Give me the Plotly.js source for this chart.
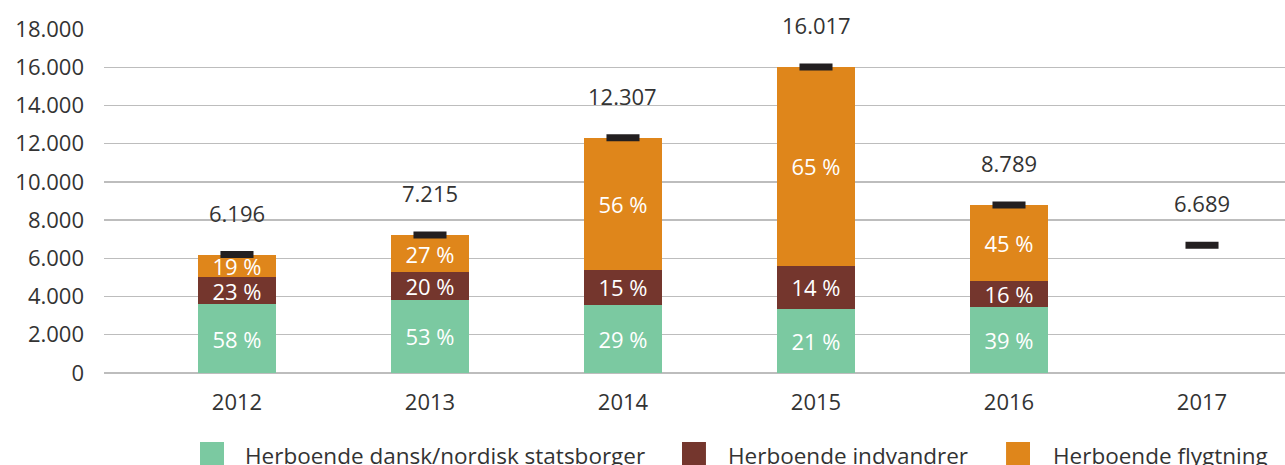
<!DOCTYPE html>
<html>
<head>
<meta charset="utf-8">
<script src="https://cdn.plot.ly/plotly-3.0.1.min.js"></script>
<style>html,body{margin:0;padding:0;background:#fff;}#chart{width:1285px;height:465px;}</style>
</head>
<body>
<div id="chart"></div>
<script>
// ---- data ----
var years = ['2012', '2013', '2014', '2015', '2016', '2017'];
var dansk = [3594, 3824, 3569, 3364, 3428, null];
var indvandrer = [1425, 1443, 1846, 2242, 1406, null];
var flygtning = [1177, 1948, 6892, 10411, 3955, null];
var pctDansk = ['58 %', '53 %', '29 %', '21 %', '39 %', ''];
var pctIndvandrer = ['23 %', '20 %', '15 %', '14 %', '16 %', ''];
var pctFlygtning = ['19 %', '27 %', '56 %', '65 %', '45 %', ''];
var totals = [6196, 7215, 12307, 16017, 8789, 6689];
var totalLabels = ['6.196', '7.215', '12.307', '16.017', '8.789', '6.689'];
var seriesNames = ['Herboende dansk/nordisk statsborger', 'Herboende indvandrer', 'Herboende flygtning'];
var yTicks = [0, 2000, 4000, 6000, 8000, 10000, 12000, 14000, 16000, 18000];

// ---- style ----
var FONT = '"Open Sans", sans-serif';
var TXT = '#333333';
var colors = ['#7BC9A1', '#74362D', '#DF861B'];

function barTrace(vals, txt, name, color) {
  return {
    type: 'bar', x: years, y: vals, name: name, text: txt,
    textposition: 'inside', insidetextanchor: 'middle', textangle: 0,
    constraintext: 'none', cliponaxis: false,
    textfont: {family: FONT, size: 22, color: '#ffffff'},
    marker: {color: color}, width: 0.404, showlegend: false, hoverinfo: 'skip'
  };
}

var data = [
  barTrace(dansk, pctDansk, seriesNames[0], colors[0]),
  barTrace(indvandrer, pctIndvandrer, seriesNames[1], colors[1]),
  barTrace(flygtning, pctFlygtning, seriesNames[2], colors[2]),
  {
    type: 'scatter', mode: 'markers', x: years, y: totals, showlegend: false,
    hoverinfo: 'skip', cliponaxis: false,
    marker: {symbol: 'line-ew', size: 23.6, color: '#231f20', line: {color: '#231f20', width: 7}}
  }
];

// total labels above each column (x given as category index)
var annotations = totals.map(function (t, i) {
  return {
    x: i, y: t, xref: 'x', yref: 'y', text: totalLabels[i], showarrow: false,
    yshift: 42, yanchor: 'middle', xanchor: 'center',
    font: {family: FONT, size: 22, color: TXT}
  };
});

// manual legend (large square swatches)
var legX0 = [0.0813, 0.4894, 0.7638];
var legX1 = [0.1016, 0.5097, 0.7841];
var legTextX = [0.1177, 0.5267, 0.8019];
var shapes = [];
for (var i = 0; i < 3; i++) {
  shapes.push({type: 'rect', xref: 'paper', yref: 'paper', x0: legX0[i], x1: legX1[i],
    y0: -0.2703, y1: -0.2006, fillcolor: colors[i], line: {width: 0}});
  annotations.push({xref: 'paper', yref: 'paper', x: legTextX[i], y: -0.2384,
    xanchor: 'left', yanchor: 'middle', showarrow: false, text: seriesNames[i],
    font: {family: FONT, size: 22.5, color: TXT}});
}

var layout = {
  width: 1285, height: 465,
  margin: {l: 104, r: 0, t: 29, b: 92, pad: 0},
  paper_bgcolor: '#ffffff', plot_bgcolor: '#ffffff',
  separators: ',.',
  barmode: 'stack',
  showlegend: false,
  font: {family: FONT, color: TXT},
  xaxis: {
    type: 'category', range: [-0.689, 5.43], showgrid: false, zeroline: false,
    showline: false, ticks: '', ticklabelstandoff: 14,
    tickfont: {family: FONT, size: 22, color: TXT}, fixedrange: true
  },
  yaxis: {
    range: [0, 18001], tickvals: yTicks, tickformat: ',d', showgrid: true,
    gridcolor: '#bdbdbd', gridwidth: 1.3, zeroline: true, zerolinecolor: '#bdbdbd',
    zerolinewidth: 1.3, showline: false, ticks: '', ticklabelstandoff: 19,
    tickfont: {family: FONT, size: 22, color: TXT}, fixedrange: true
  },
  shapes: shapes,
  annotations: annotations
};

Plotly.newPlot('chart', data, layout, {displayModeBar: false, staticPlot: true});
</script>
</body>
</html>
